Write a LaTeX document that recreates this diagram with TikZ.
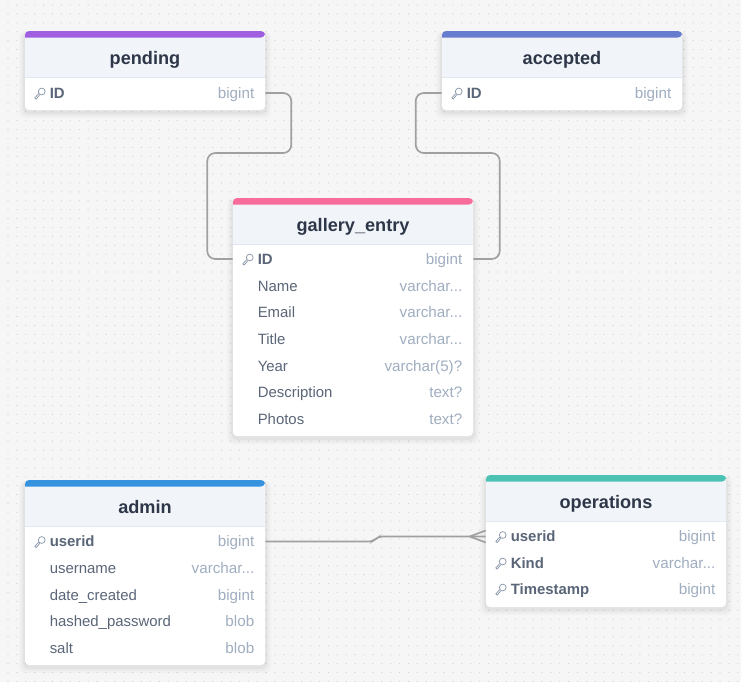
\documentclass[tikz,border=0pt]{standalone}
\usepackage{fontspec}
\setmainfont{Liberation Sans}
\usetikzlibrary{positioning}
\definecolor{canvasgray}{HTML}{F6F6F6}
\definecolor{griddot}{HTML}{D4D4D4}
\definecolor{headfill}{HTML}{F1F4F9}
\definecolor{headline}{HTML}{E2E8F0}
\definecolor{titleink}{HTML}{2D3748}
\definecolor{nameink}{HTML}{5A6678}
\definecolor{typeink}{HTML}{A0AEC0}
\definecolor{linkgray}{HTML}{A0A0A0}
\definecolor{barpurple}{HTML}{9F5FE0}
\definecolor{barblue}{HTML}{667CCF}
\definecolor{barpink}{HTML}{F86C9B}
\definecolor{barsky}{HTML}{3793E0}
\definecolor{barteal}{HTML}{4CC2B4}
\tikzset{x=0.75pt,y=-0.75pt,
    cardbox/.style={
        fill=white,
        rounded corners=3pt,
        minimum width=180pt,
        inner sep=0pt},
    rowbox/.style={
        minimum width=180pt,
        minimum height=15pt,
        inner sep=0pt},
    tabletitle/.style={
        font=\fontsize{13.6}{16}\selectfont\bfseries,
        text=titleink,
        anchor=base,
        inner sep=0pt},
    rowname/.style={
        font=\fontsize{11.2}{13}\selectfont,
        text=nameink,
        anchor=base west,
        inner sep=0pt},
    keyname/.style={
        rowname,
        font=\fontsize{11.2}{13}\selectfont\bfseries},
    rowtype/.style={
        font=\fontsize{11.4}{13}\selectfont,
        text=typeink,
        anchor=base east,
        inner sep=0pt},
    linkline/.style={
        draw=linkgray,
        line width=1.25pt,
        rounded corners=6pt},
    keyicon/.pic={
        \draw[typeink!70!nameink,line width=0.55pt,fill=white]
            (-5,5) -- (-1,0.5) (-5,5) -- (-3.5,6) -- (0,1.8);
        \draw[typeink!70!nameink,line width=0.55pt] (2,-1.5) circle (3.4);
    }}
% one table: name, centre x, top y, bottom y, colour of the bar
\newcommand{\tablecard}[6]{
    \foreach \blur/\grow in {0.018/6,0.025/4,0.035/2}
        \fill[black,opacity=\blur,rounded corners=4pt]
            (#2-120-\grow,#3+1) rectangle (#2+120+\grow,#4+2+\grow);
    \node[cardbox,minimum height=#4*0.75pt-#3*0.75pt] (#1) at (#2,#3/2+#4/2) {};
    \fill[headfill] (#2-120,#3+5) rectangle (#2+120,#3+46);
    \draw[headline,line width=0.75pt] (#2-120,#3+46) -- (#2+120,#3+46);
    \fill[#5,rounded corners=3pt] (#2-120,#3+6.5) -- (#2-120,#3) -- (#2+120,#3) -- (#2+120,#3+6.5) [sharp corners] -- cycle;
    \node[tabletitle] (#1title) at (#2,#3+33.5) {#6};
}
% one row: name, centre x, y, style, text, type
\newcommand{\tablerow}[6]{
    \node[rowbox] (#1) at (#2,#3) {};
    \node[#4] (#1name) at (#2-95.5,#3+5) {#5};
    \node[rowtype] (#1type) at (#2+109.5,#3+5) {#6};
}
\begin{document}
\begin{tikzpicture}
    \useasboundingbox (0,0) rectangle (741,682);
    \fill[canvasgray] (0,0) rectangle (741,682);
    \foreach \i in {0,...,82}
        \foreach \j in {0,...,76}
            \fill[griddot] (8+\i*8.9,5+\j*8.9) circle (0.5pt);

    % tables
    \tablecard{pending}{145}{31}{110}{barpurple}{pending}
    \tablecard{accepted}{562}{31}{110}{barblue}{accepted}
    \tablecard{gallery}{353}{198}{436}{barpink}{gallery\_entry}
    \tablecard{admin}{145}{480}{665}{barsky}{admin}
    \tablecard{operations}{606}{475}{607}{barteal}{operations}

    % rows
    \tablerow{pendingid}{145}{93}{keyname}{ID}{bigint}
    \tablerow{acceptedid}{562}{93}{keyname}{ID}{bigint}

    \tablerow{galleryid}{353}{259}{keyname}{ID}{bigint}
    \tablerow{galleryname}{353}{286}{rowname}{Name}{varchar...}
    \tablerow{galleryemail}{353}{312.5}{rowname}{Email}{varchar...}
    \tablerow{gallerytitle}{353}{339}{rowname}{Title}{varchar...}
    \tablerow{galleryyear}{353}{366}{rowname}{Year}{varchar(5)?}
    \tablerow{gallerydesc}{353}{392}{rowname}{Description}{text?}
    \tablerow{galleryphotos}{353}{419}{rowname}{Photos}{text?}

    \tablerow{adminuserid}{145}{541.5}{keyname}{userid}{bigint}
    \tablerow{adminusername}{145}{568}{rowname}{username}{varchar...}
    \tablerow{admindate}{145}{595}{rowname}{date\_created}{bigint}
    \tablerow{adminhash}{145}{621}{rowname}{hashed\_password}{blob}
    \tablerow{adminsalt}{145}{648}{rowname}{salt}{blob}

    \tablerow{opsuserid}{606}{536.5}{keyname}{userid}{bigint}
    \tablerow{opskind}{606}{563}{keyname}{Kind}{varchar...}
    \tablerow{opstime}{606}{589}{keyname}{Timestamp}{bigint}

    % key icons
    \foreach \keyrow in {pendingid,acceptedid,galleryid,adminuserid,opsuserid,opskind,opstime}
        \path ([xshift=11.25pt]\keyrow.west) pic {keyicon};

    % links
    \draw[linkline] (pendingid.east) -- ++(26,0) -- ++(0,60) -- ++(-84,0) -- ++(0,106) -- (galleryid.west);
    \draw[linkline] (acceptedid.west) -- ++(-26,0) -- ++(0,60) -- ++(84,0) -- ++(0,106) -- (galleryid.east);
    \coordinate[left=12pt of opsuserid.west] (crowtip);
    \draw[linkline,rounded corners=3pt] (adminuserid.east) -- ++(108,0) -- ++(5,-5) -- (opsuserid.west);
    \draw[linkline,rounded corners=0pt] (crowtip) -- ([yshift=4.5pt]opsuserid.west);
    \draw[linkline,rounded corners=0pt] (crowtip) -- ([yshift=-4.5pt]opsuserid.west);
\end{tikzpicture}
\end{document}
